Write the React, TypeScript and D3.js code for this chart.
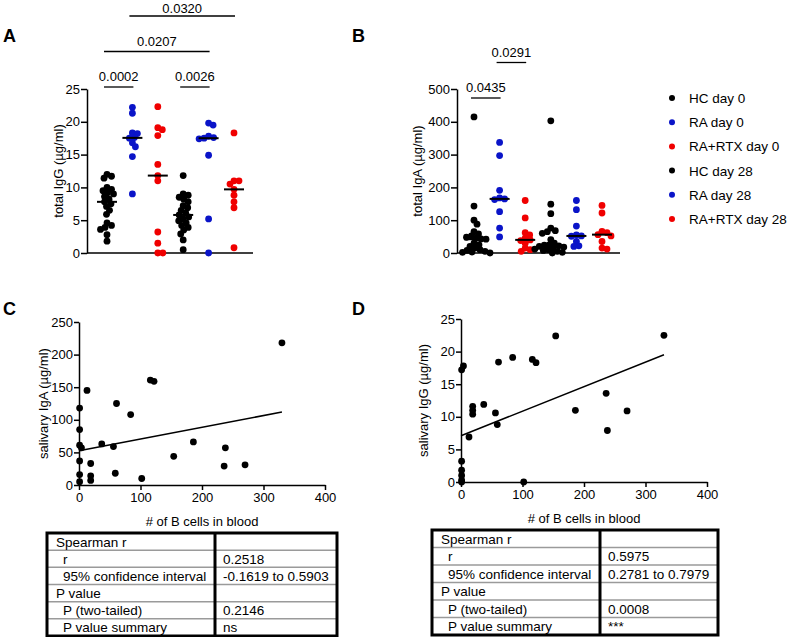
import React, { useRef, useEffect } from "react";
import * as d3 from "d3";

// groups shown in panels A and B (and the legend)
const groups = ["HC day 0", "RA day 0", "RA+RTX day 0", "HC day 28", "RA day 28", "RA+RTX day 28"];
const groupColors = ["#000000", "#0a14c8", "#f00000", "#000000", "#0a14c8", "#f00000"];

// A: total IgG (µg/ml)
const iggHC0 = [12.0, 11.7, 11.4, 10.0, 9.7, 9.5, 9.2, 9.0, 8.6, 8.2, 7.8, 7.5, 7.1, 6.5, 5.9, 4.6, 4.2, 3.9, 3.6, 2.8, 1.8];
const iggRA0 = [22.2, 21.3, 18.3, 18.2, 17.6, 17.5, 16.8, 16.2, 14.7, 9.0];
const iggRTX0 = [22.3, 19.1, 18.8, 17.9, 13.5, 11.8, 11.0, 3.2, 1.5, 0, 0];
const iggHC28 = [11.8, 9.0, 8.8, 8.5, 8.2, 7.8, 7.2, 6.9, 6.5, 6.1, 5.8, 5.5, 5.2, 4.9, 4.6, 4.2, 3.9, 3.5, 2.9, 2.0, 0.5];
const iggRA28 = [19.8, 19.5, 17.8, 17.6, 17.5, 17.4, 14.9, 5.2, 0];
const iggRTX28 = [18.3, 11.0, 11.0, 10.5, 9.7, 8.8, 7.8, 6.9, 0.8];
const iggTicks = [0, 5, 10, 15, 20, 25];
const iggComparisons = [
  { a: "HC day 0", b: "RA day 0", p: "0.0002", level: 0 },
  { a: "HC day 28", b: "RA day 28", p: "0.0026", level: 0 },
  { a: "HC day 0", b: "RA day 28", p: "0.0207", level: 1 },
  { a: "RA day 0", b: "RA+RTX day 28", p: "0.0320", level: 2 },
];

// B: total IgA (µg/ml)
const igaHC0 = [415, 143, 100, 88, 65, 58, 52, 48, 45, 43, 42, 30, 25, 20, 15, 10, 8, 5, 3, 2, 0];
const igaRA0 = [337, 297, 191, 168, 165, 163, 126, 76, 49];
const igaRTX0 = [160, 107, 62, 55, 45, 40, 38, 30, 15, 10, 5];
const igaHC28 = [403, 149, 120, 76, 68, 65, 60, 41, 30, 25, 24, 22, 20, 18, 15, 12, 10, 8, 5, 2, 0];
const igaRA28 = [160, 132, 82, 55, 52, 51, 35, 22, 20];
const igaRTX28 = [145, 122, 66, 62, 56, 52, 35, 15, 12];
const igaTicks = [0, 100, 200, 300, 400, 500];
const igaComparisons = [
  { a: "HC day 0", b: "RA day 0", p: "0.0435", level: 0 },
  { a: "RA day 0", b: "RA+RTX day 0", p: "0.0291", level: 1 },
];

// C / D: B cells in blood vs salivary Ig
const bCells = [330, 154, 84, 61, 116, 122, 13, 37, 56, 59, 19, 19, 19, 186, 236, 238, 270, 102, 1, 1, 1, 1, 1, 1, 4];
const salivaryIgA = [218, 44, 108, 125, 161, 159, 145, 63, 59, 18, 33, 14, 7, 66, 29, 57, 31, 10, 118, 85, 61, 37, 16, 5, 57];
const salivaryIgG = [22.5, 22.4, 19.1, 18.4, 18.8, 18.3, 6.9, 11.9, 10.6, 8.8, 11.6, 11.0, 10.4, 11.0, 13.6, 7.9, 10.9, 0, 17.2, 3.2, 1.8, 1.0, 0.3, 0.0, 17.8];
const fitC = { intercept: 52.5, slope: 0.18, xMax: 330 };
const fitD = { intercept: 7.1, slope: 0.0376, xMax: 330 };
const scatterXTicks = [0, 100, 200, 300, 400];
const igaSalTicks = [0, 50, 100, 150, 200, 250];
const iggSalTicks = [0, 5, 10, 15, 20, 25];

const tableLabels = ["Spearman r", "r", "95% confidence interval", "P value", "P (two-tailed)", "P value summary"];
const tableHeaderRows = [0, 3];
const tableValuesC = ["", "0.2518", "-0.1619 to 0.5903", "", "0.2146", "ns"];
const tableValuesD = ["", "0.5975", "0.2781 to 0.7979", "", "0.0008", "***"];

const FONT = "'Liberation Sans', Arial, sans-serif";

// simple beeswarm: nearest free x offset for each dot (dots may overlap a bit)
function swarm(vals, y, cx, r) {
  const out = [];
  const sorted = [...vals].sort((a, b) => b - a);
  for (const v of sorted) {
    const py = y(v);
    let px = cx;
    for (let k = 0; k < 80; k++) {
      const off = (k % 2 === 1 ? 1 : -1) * Math.ceil(k / 2) * 0.5;
      const cand = cx + off;
      if (out.every((p) => (p.x - cand) ** 2 + (p.y - py) ** 2 >= (2 * r * 0.72) ** 2)) {
        px = cand;
        break;
      }
    }
    out.push({ x: px, y: py, v });
  }
  return out;
}

function styleAxis(sel) {
  sel.select(".domain").attr("stroke", "#000").attr("stroke-width", 1.5);
  sel.selectAll(".tick line").attr("stroke", "#000").attr("stroke-width", 1.5);
  sel.selectAll(".tick text").attr("fill", "#000").attr("font-size", 13).attr("font-family", FONT);
}

function yLabel(svg, x, y, text) {
  svg.append("text")
    .attr("transform", `translate(${x},${y}) rotate(-90)`)
    .attr("text-anchor", "middle")
    .attr("dy", "0.35em")
    .attr("font-size", 13)
    .attr("font-family", FONT)
    .text(text);
}

function panelLetter(svg, x, y, t) {
  svg.append("text").attr("x", x).attr("y", y)
    .attr("font-size", 18).attr("font-weight", "bold").attr("font-family", FONT).text(t);
}

function dotPanel(svg, cfg, sets, ticks, comps, label) {
  const yMax = ticks[ticks.length - 1];
  const y = d3.scaleLinear().domain([0, yMax]).range([cfg.yBottom, cfg.yTop]);
  const x = d3.scalePoint().domain(groups).range([cfg.first, cfg.last]);
  const g = svg.append("g");

  g.append("g")
    .attr("transform", `translate(${cfg.axisX},0)`)
    .call(d3.axisLeft(y).tickValues(ticks).tickSize(6).tickSizeOuter(0).tickPadding(1))
    .call(styleAxis);
  g.append("line")
    .attr("x1", cfg.axisX).attr("x2", cfg.xEnd)
    .attr("y1", cfg.yBottom).attr("y2", cfg.yBottom)
    .attr("stroke", "#000").attr("stroke-width", 1.5);

  sets.forEach((vals, i) => {
    const cx = x(groups[i]);
    const pts = swarm(vals, y, cx, 3.4);
    g.append("g").selectAll("circle").data(pts).join("circle")
      .attr("cx", (d) => d.x).attr("cy", (d) => d.y).attr("r", 3.4)
      .attr("fill", groupColors[i]);
    const med = d3.median(vals);
    g.append("line")
      .attr("x1", cx - 10).attr("x2", cx + 10)
      .attr("y1", y(med)).attr("y2", y(med))
      .attr("stroke", "#000").attr("stroke-width", 2);
  });

  comps.forEach((c) => {
    const ly = cfg.bracketBase - c.level * 35.5;
    const x1 = x(c.a) - 3, x2 = x(c.b) + 1;
    g.append("line").attr("x1", x1).attr("x2", x2).attr("y1", ly).attr("y2", ly)
      .attr("stroke", "#000").attr("stroke-width", 1.3);
    g.append("text").attr("x", (x1 + x2) / 2).attr("y", Math.max(ly - 6, 12.5))
      .attr("text-anchor", "middle").attr("font-size", 13).attr("font-family", FONT)
      .text(c.p);
  });

  yLabel(svg, cfg.labelX, (cfg.yTop + cfg.yBottom) / 2, label);
}

function scatterPanel(svg, cfg, xs, ys, yTicks, fit, label) {
  const x = d3.scaleLinear().domain([0, 400]).range([cfg.axisX, cfg.xEnd]);
  const y = d3.scaleLinear().domain([0, yTicks[yTicks.length - 1]]).range([cfg.yBottom, cfg.yTop]);
  const g = svg.append("g");

  g.append("g")
    .attr("transform", `translate(${cfg.axisX},0)`)
    .call(d3.axisLeft(y).tickValues(yTicks).tickSize(5).tickSizeOuter(0).tickPadding(1))
    .call(styleAxis);
  g.append("g")
    .attr("transform", `translate(0,${cfg.yBottom})`)
    .call(d3.axisBottom(x).tickValues(scatterXTicks).tickSize(5).tickSizeOuter(0).tickPadding(3))
    .call(styleAxis);

  const lineGen = d3.line().x((d) => x(d[0])).y((d) => y(d[1]));
  g.append("path")
    .attr("d", lineGen([[0, fit.intercept], [fit.xMax, fit.intercept + fit.slope * fit.xMax]]))
    .attr("stroke", "#000").attr("stroke-width", 1.5).attr("fill", "none");

  g.append("g").selectAll("circle").data(xs.map((v, i) => [v, ys[i]])).join("circle")
    .attr("cx", (d) => x(d[0])).attr("cy", (d) => y(d[1])).attr("r", 3.4).attr("fill", "#000");

  g.append("text")
    .attr("x", (cfg.axisX + cfg.xEnd) / 2).attr("y", cfg.yBottom + 41)
    .attr("text-anchor", "middle").attr("font-size", 13).attr("font-family", FONT)
    .text("# of B cells in blood");

  yLabel(svg, cfg.labelX, (cfg.yTop + cfg.yBottom) / 2, label);
}

function statTable(svg, cfg, values) {
  const rowY = d3.scaleLinear().domain([0, tableLabels.length]).range([cfg.top, cfg.bottom]);
  const g = svg.append("g").attr("font-family", FONT).attr("font-size", 13.5);
  for (let i = 1; i < tableLabels.length; i++) {
    g.append("line").attr("x1", cfg.left).attr("x2", cfg.right)
      .attr("y1", rowY(i)).attr("y2", rowY(i))
      .attr("stroke", "#9a9a9a").attr("stroke-width", 1.5);
  }
  tableLabels.forEach((t, i) => {
    const indent = tableHeaderRows.includes(i) ? 9 : 16;
    g.append("text").attr("x", cfg.left + indent).attr("y", rowY(i) + 13.5).text(t);
    g.append("text").attr("x", cfg.divider + 8).attr("y", rowY(i) + 13.5).text(values[i]);
  });
  g.append("rect").attr("x", cfg.left).attr("y", cfg.top)
    .attr("width", cfg.right - cfg.left).attr("height", cfg.bottom - cfg.top)
    .attr("fill", "none").attr("stroke", "#000").attr("stroke-width", 3);
  g.append("line").attr("x1", cfg.divider).attr("x2", cfg.divider)
    .attr("y1", cfg.top).attr("y2", cfg.bottom)
    .attr("stroke", "#000").attr("stroke-width", 3);
}

function App() {
  const svgRef = useRef(null);

  useEffect(() => {
    const svg = d3.select(svgRef.current);
    svg.selectAll("*").remove();

    panelLetter(svg, 3, 42, "A");
    panelLetter(svg, 352, 42, "B");
    panelLetter(svg, 3, 315, "C");
    panelLetter(svg, 352, 315, "D");

    dotPanel(svg,
      { axisX: 87, xEnd: 253, yTop: 89, yBottom: 253, first: 107, last: 234, bracketBase: 87, labelX: 58 },
      [iggHC0, iggRA0, iggRTX0, iggHC28, iggRA28, iggRTX28], iggTicks, iggComparisons, "total IgG (µg/ml)");

    dotPanel(svg,
      { axisX: 457, xEnd: 620, yTop: 89, yBottom: 253, first: 474, last: 602, bracketBase: 98, labelX: 417 },
      [igaHC0, igaRA0, igaRTX0, igaHC28, igaRA28, igaRTX28], igaTicks, igaComparisons, "total IgA (µg/ml)");

    // legend
    const ly = d3.scalePoint().domain(groups).range([98, 219]);
    const leg = svg.append("g").attr("font-family", FONT).attr("font-size", 13.5);
    groups.forEach((name, i) => {
      leg.append("circle").attr("cx", 672).attr("cy", ly(name)).attr("r", 3).attr("fill", groupColors[i]);
      leg.append("text").attr("x", 689).attr("y", ly(name) + 5).text(name);
    });

    scatterPanel(svg, { axisX: 79, xEnd: 325, yTop: 322, yBottom: 485, labelX: 43 },
      bCells, salivaryIgA, igaSalTicks, fitC, "salivary IgA (µg/ml)");
    scatterPanel(svg, { axisX: 461, xEnd: 707, yTop: 319, yBottom: 482, labelX: 423 },
      bCells, salivaryIgG, iggSalTicks, fitD, "salivary IgG (µg/ml)");

    statTable(svg, { left: 47, divider: 215, right: 337, top: 533, bottom: 636 }, tableValuesC);
    statTable(svg, { left: 432, divider: 600, right: 718, top: 530, bottom: 635 }, tableValuesD);
  }, []);

  return (
    <div style={{ position: "absolute", left: 0, top: 0 }}>
      <svg ref={svgRef} width={787} height={637} style={{ display: "block", background: "#fff" }} />
    </div>
  );
}

export default App;
